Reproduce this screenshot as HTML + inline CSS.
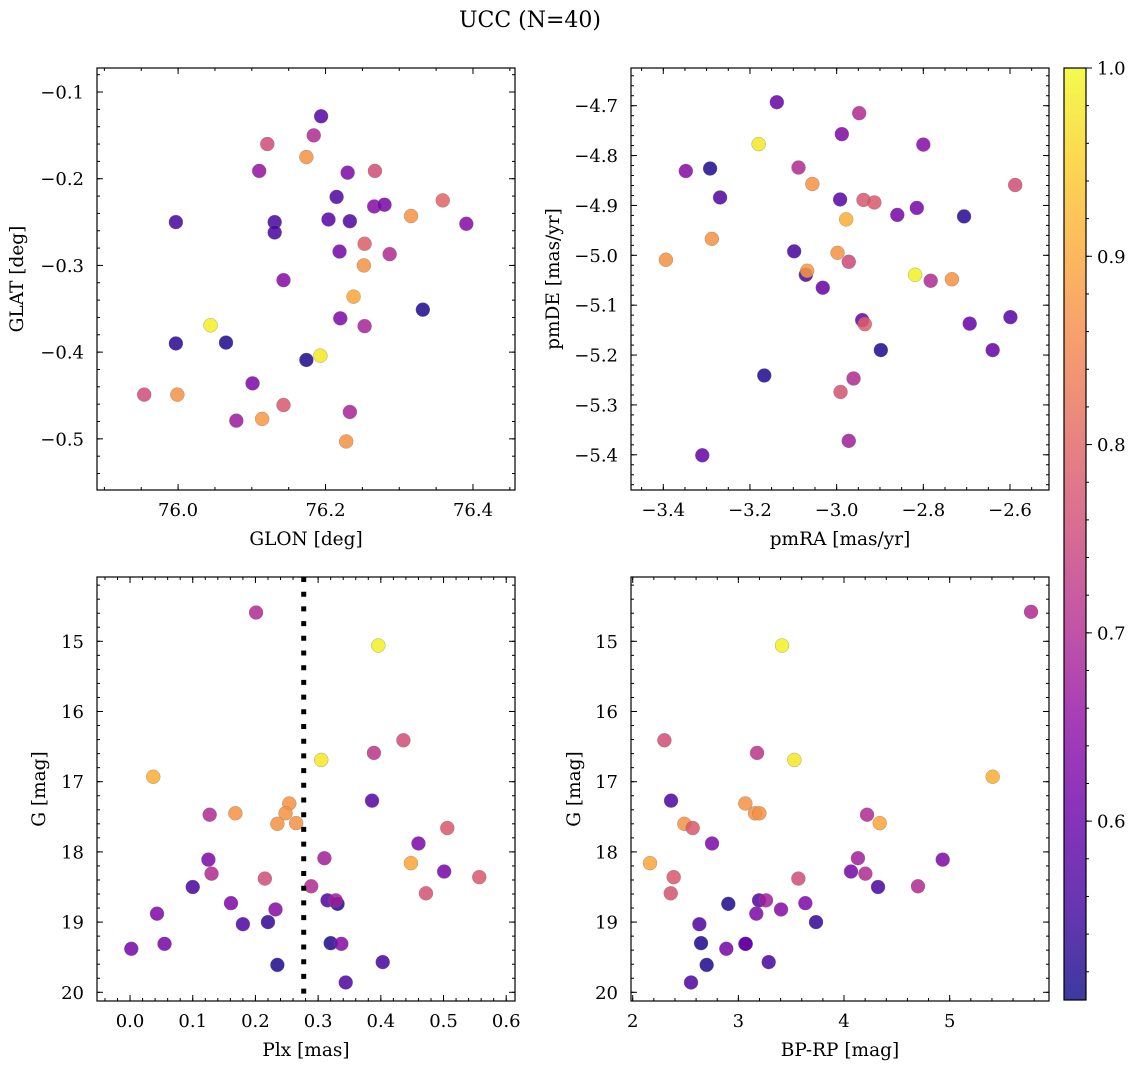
<!DOCTYPE html>
<html><head><meta charset="utf-8"><style>
html,body{margin:0;padding:0;background:#fff;}
svg{display:block;font-family:"DejaVu Serif","Liberation Serif",serif;}
</style></head><body>
<svg id="fig" width="1136" height="1067" viewBox="0 0 1136 1067" xmlns="http://www.w3.org/2000/svg">
<defs><linearGradient id="plasma" x1="0" y1="1" x2="0" y2="0">
<stop offset="0" stop-color="#0d0887"/><stop offset="0.1" stop-color="#41049d"/><stop offset="0.2" stop-color="#6a00a8"/><stop offset="0.3" stop-color="#8f0da4"/><stop offset="0.4" stop-color="#b12a90"/><stop offset="0.5" stop-color="#cc4778"/><stop offset="0.6" stop-color="#e16462"/><stop offset="0.7" stop-color="#f2844b"/><stop offset="0.8" stop-color="#fca636"/><stop offset="0.9" stop-color="#fcce25"/><stop offset="1" stop-color="#f0f921"/>
</linearGradient></defs>
<text x="530" y="27" text-anchor="middle" font-size="22">UCC (N=40)</text>
</svg>
<script>
// Panel 1: GLON vs GLAT
const glon = [76.194,76.184,76.121,76.174,76.110,76.230,76.267,76.215,76.359,76.266,76.280,76.316,76.391,75.997,76.131,76.131,76.204,76.233,76.253,76.219,76.287,76.252,76.143,76.238,76.332,76.220,76.253,76.044,75.997,76.065,76.174,76.193,76.101,75.954,75.999,76.143,76.079,76.114,76.233,76.228];
const glat = [-0.128,-0.150,-0.160,-0.175,-0.191,-0.193,-0.191,-0.221,-0.225,-0.232,-0.230,-0.243,-0.252,-0.250,-0.250,-0.262,-0.247,-0.249,-0.275,-0.284,-0.287,-0.300,-0.317,-0.336,-0.351,-0.361,-0.370,-0.369,-0.390,-0.389,-0.409,-0.404,-0.436,-0.449,-0.449,-0.461,-0.479,-0.477,-0.469,-0.503];
const prob1 = [0.58,0.70,0.76,0.87,0.66,0.63,0.76,0.57,0.80,0.64,0.62,0.87,0.64,0.56,0.56,0.56,0.58,0.57,0.79,0.62,0.70,0.87,0.64,0.90,0.52,0.63,0.69,0.99,0.53,0.52,0.52,0.98,0.63,0.76,0.87,0.78,0.67,0.88,0.69,0.87];
// Panel 2: pmRA vs pmDE
const pmra = [-3.138,-2.948,-2.988,-3.180,-2.800,-3.348,-3.292,-3.088,-3.056,-2.588,-3.269,-2.992,-2.938,-2.913,-2.860,-2.815,-2.706,-2.978,-3.288,-3.394,-3.098,-2.998,-2.972,-3.071,-3.068,-3.032,-2.819,-2.783,-2.734,-2.941,-2.935,-2.693,-2.599,-2.898,-2.640,-3.167,-2.961,-2.991,-2.972,-3.310];
const pmde = [-4.693,-4.715,-4.757,-4.777,-4.778,-4.831,-4.826,-4.824,-4.857,-4.859,-4.884,-4.888,-4.889,-4.894,-4.919,-4.905,-4.922,-4.928,-4.967,-5.009,-4.992,-4.995,-5.013,-5.039,-5.031,-5.065,-5.039,-5.051,-5.048,-5.130,-5.138,-5.137,-5.124,-5.190,-5.190,-5.241,-5.247,-5.274,-5.372,-5.401];
const prob2 = [0.60,0.70,0.63,0.98,0.64,0.64,0.52,0.70,0.87,0.76,0.57,0.58,0.78,0.78,0.62,0.62,0.53,0.91,0.87,0.87,0.56,0.87,0.75,0.56,0.88,0.60,0.99,0.70,0.87,0.60,0.79,0.60,0.58,0.52,0.60,0.52,0.70,0.77,0.68,0.60];
// Panel 3: Plx vs G
const plx = [0.201,0.396,0.436,0.389,0.305,0.037,0.254,0.248,0.127,0.168,0.235,0.265,0.386,0.506,0.460,0.448,0.310,0.125,0.130,0.501,0.557,0.215,0.100,0.289,0.472,0.315,0.331,0.328,0.161,0.232,0.043,0.180,0.220,0.002,0.055,0.320,0.337,0.235,0.403,0.344];
const gmag3 = [14.59,15.06,16.41,16.59,16.69,16.93,17.31,17.45,17.47,17.45,17.60,17.59,17.27,17.66,17.88,18.16,18.09,18.11,18.31,18.28,18.36,18.38,18.50,18.49,18.59,18.69,18.74,18.69,18.73,18.82,18.88,19.03,19.00,19.38,19.31,19.30,19.31,19.61,19.57,19.86];
const prob3 = [0.70,0.99,0.76,0.72,0.98,0.91,0.87,0.87,0.70,0.87,0.87,0.87,0.58,0.78,0.63,0.90,0.68,0.63,0.70,0.62,0.78,0.76,0.56,0.70,0.77,0.57,0.52,0.68,0.63,0.64,0.63,0.57,0.54,0.62,0.62,0.52,0.64,0.52,0.56,0.57];
// Panel 4: BP-RP vs G
const bprp = [5.770,3.413,2.300,3.177,3.530,5.407,2.363,3.066,3.158,3.199,2.489,2.568,4.218,4.338,2.751,2.164,4.132,4.934,2.388,2.360,3.568,4.066,4.202,4.322,4.700,2.905,3.196,3.262,3.404,3.634,3.170,3.735,2.631,2.647,2.886,3.066,3.070,2.700,3.287,2.552];
const gmag4 = [14.58,15.06,16.41,16.59,16.69,16.93,17.27,17.31,17.45,17.45,17.60,17.66,17.47,17.59,17.88,18.16,18.09,18.11,18.36,18.59,18.38,18.28,18.31,18.50,18.49,18.74,18.69,18.69,18.82,18.73,18.88,19.00,19.03,19.30,19.38,19.31,19.31,19.61,19.57,19.86];
const prob4 = [0.70,0.99,0.76,0.72,0.98,0.91,0.57,0.87,0.87,0.87,0.87,0.78,0.70,0.90,0.63,0.90,0.68,0.63,0.78,0.77,0.76,0.62,0.70,0.56,0.70,0.52,0.57,0.68,0.64,0.63,0.63,0.54,0.57,0.52,0.62,0.60,0.60,0.52,0.56,0.57];
const cbTicks = [0.6,0.7,0.8,0.9,1.0];

const NS = "http://www.w3.org/2000/svg";
const svg = document.getElementById('fig');
const VMIN = 0.505, VMAX = 1.0;
const TF = 18, LF = 18.5;
const stops = ["#0d0887","#41049d","#6a00a8","#8f0da4","#b12a90","#cc4778","#e16462","#f2844b","#fca636","#fcce25","#f0f921"];
function hex(c){return [parseInt(c.slice(1,3),16),parseInt(c.slice(3,5),16),parseInt(c.slice(5,7),16)];}
function cmap(v){
  let t=(v-VMIN)/(VMAX-VMIN); t=Math.max(0,Math.min(1,t));
  const f=t*10, i=Math.min(9,Math.floor(f)), r=f-i;
  const a=hex(stops[i]), b=hex(stops[i+1]);
  return 'rgb('+a.map((x,k)=>Math.round(x+(b[k]-x)*r)).join(',')+')';
}
function mk(tag, attrs, parent){
  const e=document.createElementNS(NS,tag);
  for(const k in attrs) e.setAttribute(k,attrs[k]);
  (parent||svg).appendChild(e); return e;
}
function fmt(v,d){return (v<0?'\u2212':'')+Math.abs(v).toFixed(d);}
function range(a,b,s){const r=[];for(let v=Math.ceil(a/s-1e-6)*s;v<=b+1e-9;v+=s)r.push(+v.toFixed(6));return r;}

function panel(cfg){
  const g=mk('g',{});
  
  
  const {x0,x1,y0,y1}=cfg;
  const sx=v=>x0+(v-cfg.xmin)/(cfg.xmax-cfg.xmin)*(x1-x0);
  const sy=cfg.yinv ? (v=>y0+(v-cfg.ymin)/(cfg.ymax-cfg.ymin)*(y1-y0)) : (v=>y1-(v-cfg.ymin)/(cfg.ymax-cfg.ymin)*(y1-y0));
  const pg=mk('g',{},g);
  
  
  for(let i=0;i<cfg.xs.length;i++){
    const c=mk('circle',{cx:sx(cfg.xs[i]),cy:sy(cfg.ys[i]),r:7,fill:cmap(cfg.ps[i]),'fill-opacity':0.85,stroke:'#777','stroke-width':0.5,'stroke-opacity':0.6},pg);
    
    
  }
  if(cfg.vline!==undefined){
    const l=mk('line',{x1:sx(cfg.vline),x2:sx(cfg.vline),y1:y0,y2:y1,stroke:'#000','stroke-width':5,'stroke-dasharray':'5 9.7'},g);
    
    
  }
  const tg=mk('g',{stroke:'#000','stroke-width':1},g);
  
  
  range(cfg.xmin,cfg.xmax,cfg.xminor).forEach(v=>{const X=sx(v);mk('line',{x1:X,x2:X,y1:y1,y2:y1-3},tg);mk('line',{x1:X,x2:X,y1:y0,y2:y0+3},tg);});
  range(cfg.ymin,cfg.ymax,cfg.yminor).forEach(v=>{const Y=sy(v);mk('line',{x1:x0,x2:x0+3,y1:Y,y2:Y},tg);mk('line',{x1:x1,x2:x1-3,y1:Y,y2:Y},tg);});
  cfg.xticks.forEach(v=>{const X=sx(v);mk('line',{x1:X,x2:X,y1:y1,y2:y1-6},tg);mk('line',{x1:X,x2:X,y1:y0,y2:y0+6},tg);
    const t=mk('text',{x:X,y:y1+26,'text-anchor':'middle','font-size':TF,stroke:'none'},g);t.textContent=fmt(v,cfg.xd);
    
    });
  cfg.yticks.forEach(v=>{const Y=sy(v);mk('line',{x1:x0,x2:x0+6,y1:Y,y2:Y},tg);mk('line',{x1:x1,x2:x1-6,y1:Y,y2:Y},tg);
    const t=mk('text',{x:x0-13,y:Y+6.5,'text-anchor':'end','font-size':TF},g);t.textContent=fmt(v,cfg.yd);
    
    });
  const fr=mk('rect',{x:x0,y:y0,width:x1-x0,height:y1-y0,fill:'none',stroke:'#000','stroke-width':1.2},g);
  
  
  const xl=mk('text',{x:(x0+x1)/2,y:y1+55,'text-anchor':'middle','font-size':LF},g);xl.textContent=cfg.xlabel;
  
  
  const cy=(y0+y1)/2;
  const yl=mk('text',{x:cfg.ylx,y:cy,'text-anchor':'middle','font-size':LF,transform:'rotate(-90 '+cfg.ylx+' '+cy+')'},g);yl.textContent=cfg.ylabel;
  
  
}

panel({name:'glon-glat-panel',x0:97,x1:515,y0:68,y1:490,xmin:75.890,xmax:76.457,ymin:-0.559,ymax:-0.0723,
  xs:glon,ys:glat,ps:prob1,xticks:[76.0,76.2,76.4],xd:1,xminor:0.05,yticks:[-0.5,-0.4,-0.3,-0.2,-0.1],yd:1,yminor:0.02,
  xlabel:'GLON [deg]',ylabel:'GLAT [deg]',ylx:23});
panel({name:'pm-panel',x0:631,x1:1049,y0:68,y1:490,xmin:-3.4745,xmax:-2.510,ymin:-5.4706,ymax:-4.6244,
  xs:pmra,ys:pmde,ps:prob2,xticks:[-3.4,-3.2,-3.0,-2.8,-2.6],xd:1,xminor:0.05,yticks:[-5.4,-5.3,-5.2,-5.1,-5.0,-4.9,-4.8,-4.7],yd:1,yminor:0.02,
  xlabel:'pmRA [mas/yr]',ylabel:'pmDE [mas/yr]',ylx:559});
panel({name:'plx-g-panel',x0:97,x1:515,y0:577,y1:1001,xmin:-0.0527,xmax:0.614,ymin:14.084,ymax:20.124,yinv:true,
  xs:plx,ys:gmag3,ps:prob3,xticks:[0,0.1,0.2,0.3,0.4,0.5,0.6],xd:1,xminor:0.02,yticks:[15,16,17,18,19,20],yd:0,yminor:0.2,
  xlabel:'Plx [mas]',ylabel:'G [mag]',ylx:45,vline:0.277});
panel({name:'color-g-panel',x0:631,x1:1049,y0:577,y1:1001,xmin:1.984,xmax:5.94,ymin:14.084,ymax:20.124,yinv:true,
  xs:bprp,ys:gmag4,ps:prob4,xticks:[2,3,4,5],xd:0,xminor:0.2,yticks:[15,16,17,18,19,20],yd:0,yminor:0.2,
  xlabel:'BP-RP [mag]',ylabel:'G [mag]',ylx:580});

(function(){
  const x0=1064,x1=1086,y0=68,y1=1000;
  const sy=v=>y1-(v-VMIN)/(VMAX-VMIN)*(y1-y0);
  const r=mk('rect',{x:x0,y:y0,width:x1-x0,height:y1-y0,fill:'url(#plasma)','fill-opacity':0.8});
  
  
  const cg=mk('g',{stroke:'#000','stroke-width':1});
  
  
  range(VMIN,VMAX,0.02).forEach(v=>{const Y=sy(v);mk('line',{x1:x1,x2:x1+3,y1:Y,y2:Y},cg);});
  cbTicks.forEach(v=>{const Y=sy(v);mk('line',{x1:x1,x2:x1+6,y1:Y,y2:Y},cg);
    const t=mk('text',{x:x1+11,y:Y+6.5,'font-size':TF});t.textContent=v.toFixed(1);
    
    });
  const f=mk('rect',{x:x0,y:y0,width:x1-x0,height:y1-y0,fill:'none',stroke:'#000','stroke-width':1.2});
  
  
})();
</script>
</body></html>
